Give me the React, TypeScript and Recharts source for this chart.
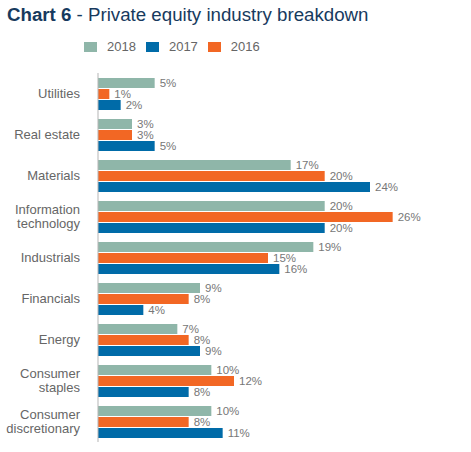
import { Bar, BarChart, LabelList, XAxis, YAxis } from "recharts";

const categories = [
  "Utilities",
  "Real estate",
  "Materials",
  "Information\ntechnology",
  "Industrials",
  "Financials",
  "Energy",
  "Consumer\nstaples",
  "Consumer\ndiscretionary",
];
const values2018 = [5, 3, 17, 20, 19, 9, 7, 10, 10];
const values2017 = [2, 5, 24, 20, 16, 4, 9, 8, 11];
const values2016 = [1, 3, 20, 26, 15, 8, 8, 12, 8];

const legendItems = [
  { key: "y2018", label: "2018", color: "#8fb6a9" },
  { key: "y2017", label: "2017", color: "#006ba8" },
  { key: "y2016", label: "2016", color: "#f26724" },
];

const FONT = "'Liberation Sans', Arial, sans-serif";

const data = categories.map((name, i) => ({
  name,
  y2018: values2018[i],
  y2017: values2017[i],
  y2016: values2016[i],
}));

const CategoryTick = ({ x, y, payload }: any) => {
  const lines = String(payload.value).split("\n");
  const lh = 14.5;
  const start = -((lines.length - 1) * lh) / 2;
  return (
    <text x={x - 10} y={y} textAnchor="end" fill="#666" fontSize={13} fontFamily={FONT}>
      {lines.map((l, i) => (
        <tspan key={i} x={x - 10} y={y + start + i * lh} dy="0.36em">
          {l}
        </tspan>
      ))}
    </text>
  );
};

const pct = (v: any) => `${v}%`;

export default function App() {
  return (
    <div style={{ position: "absolute", left: 0, top: 0, width: 471, height: 452, background: "#fff" }}>
      <div
        style={{
          position: "absolute",
          left: 7,
          top: 4,
          fontFamily: FONT,
          fontSize: 18.7,
          color: "#173a5e",
          whiteSpace: "nowrap",
        }}
      >
        <b>Chart 6</b> - Private equity industry breakdown
      </div>
      {/* legend, in the reference's order */}
      <div
        style={{
          position: "absolute",
          left: 84,
          top: 39,
          display: "flex",
          alignItems: "center",
          fontFamily: FONT,
          fontSize: 13,
          color: "#666",
        }}
      >
        {legendItems.map((it) => (
          <div key={it.key} style={{ display: "flex", alignItems: "center", marginRight: 10 }}>
            <span style={{ width: 13, height: 10, background: it.color, display: "inline-block", marginRight: 10 }} />
            <span>{it.label}</span>
          </div>
        ))}
      </div>
      <BarChart
        width={471}
        height={452}
        data={data}
        layout="vertical"
        margin={{ top: 73, right: 33, bottom: 10, left: 0 }}
        barSize={10}
        barGap={1}
      >
        <XAxis type="number" domain={[0, 30]} hide />
        <YAxis
          type="category"
          dataKey="name"
          width={98}
          tickLine={false}
          axisLine={{ stroke: "#b5b5b5" }}
          tick={<CategoryTick />}
          interval={0}
        />
        <Bar dataKey="y2018" fill="#8fb6a9" isAnimationActive={false}>
          <LabelList dataKey="y2018" position="right" offset={5} formatter={pct} fill="#777" fontSize={11.5} fontFamily={FONT} />
        </Bar>
        <Bar dataKey="y2016" fill="#f26724" isAnimationActive={false}>
          <LabelList dataKey="y2016" position="right" offset={5} formatter={pct} fill="#777" fontSize={11.5} fontFamily={FONT} />
        </Bar>
        <Bar dataKey="y2017" fill="#006ba8" isAnimationActive={false}>
          <LabelList dataKey="y2017" position="right" offset={5} formatter={pct} fill="#777" fontSize={11.5} fontFamily={FONT} />
        </Bar>
      </BarChart>
    </div>
  );
}
